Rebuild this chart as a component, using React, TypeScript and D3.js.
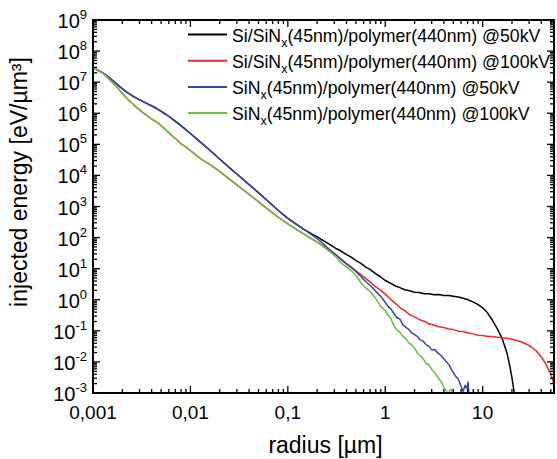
import * as d3 from 'd3'
import React from 'react'

const width = 557
const height = 459
const margin = { top: 20, right: 3, bottom: 66, left: 93 }

// axis settings
const xDomain: [number, number] = [0.001, 54]
const yDomain: [number, number] = [1e-3, 1e9]
const xTickValues = [0.001, 0.01, 0.1, 1, 10]
const xTickLabels = ['0,001', '0,01', '0,1', '1', '10']
const yTickExponents = [-3, -2, -1, 0, 1, 2, 3, 4, 5, 6, 7, 8, 9]

const seriesColors = ['#000000', '#ee2a2a', '#34499f', '#6abd45']
const legendParts = [
  { pre: 'Si/SiN', sub: 'x', post: '(45nm)/polymer(440nm) @50kV' },
  { pre: 'Si/SiN', sub: 'x', post: '(45nm)/polymer(440nm) @100kV' },
  { pre: 'SiN', sub: 'x', post: '(45nm)/polymer(440nm) @50kV' },
  { pre: 'SiN', sub: 'x', post: '(45nm)/polymer(440nm) @100kV' }
]

// [log10(radius µm), log10(energy eV/µm³)]
const blackLog: [number, number][] = [
  [-3.0, 7.47], [-2.95, 7.39], [-2.9, 7.3], [-2.85, 7.19], [-2.8, 7.06], [-2.75, 6.92], [-2.7, 6.79],
  [-2.65, 6.67], [-2.6, 6.57], [-2.55, 6.48], [-2.5, 6.4], [-2.45, 6.32], [-2.4, 6.24], [-2.35, 6.16],
  [-2.3, 6.06], [-2.25, 5.96], [-2.2, 5.85], [-2.15, 5.73], [-2.1, 5.61], [-2.05, 5.48], [-2.0, 5.35],
  [-1.9, 5.08], [-1.8, 4.81], [-1.7, 4.53], [-1.6, 4.25], [-1.5, 3.98], [-1.4, 3.71], [-1.3, 3.44],
  [-1.2, 3.16], [-1.1, 2.88], [-1.0, 2.62], [-0.9, 2.4], [-0.85, 2.3], [-0.8, 2.2], [-0.75, 2.11],
  [-0.7, 2.03], [-0.65, 1.93], [-0.6, 1.84], [-0.55, 1.74], [-0.5, 1.64], [-0.45, 1.56], [-0.4, 1.46],
  [-0.35, 1.37], [-0.3, 1.26], [-0.25, 1.17], [-0.2, 1.05], [-0.15, 0.96], [-0.1, 0.84], [-0.05, 0.74],
  [0.0, 0.62], [0.05, 0.54], [0.1, 0.45], [0.15, 0.39], [0.2, 0.32], [0.25, 0.29], [0.3, 0.24],
  [0.35, 0.23], [0.4, 0.19], [0.45, 0.19], [0.5, 0.16], [0.55, 0.17], [0.6, 0.14], [0.65, 0.14],
  [0.7, 0.11], [0.75, 0.09], [0.8, 0.05], [0.85, 0.0], [0.9, -0.07], [0.95, -0.15], [1.0, -0.26],
  [1.05, -0.42], [1.1, -0.66], [1.15, -0.93], [1.2, -1.25], [1.25, -1.72], [1.28, -2.15], [1.3, -2.5],
  [1.32, -2.9], [1.33, -3.1]
]

const redLog: [number, number][] = [
  [-3.0, 7.47], [-2.95, 7.39], [-2.9, 7.29], [-2.85, 7.15], [-2.8, 6.99], [-2.75, 6.82], [-2.7, 6.64],
  [-2.65, 6.47], [-2.6, 6.32], [-2.55, 6.18], [-2.5, 6.05], [-2.45, 5.93], [-2.4, 5.82], [-2.35, 5.72],
  [-2.3, 5.6], [-2.25, 5.46], [-2.2, 5.31], [-2.15, 5.17], [-2.1, 5.03], [-2.05, 4.92], [-2.0, 4.8],
  [-1.9, 4.55], [-1.8, 4.35], [-1.7, 4.13], [-1.6, 3.88], [-1.5, 3.64], [-1.4, 3.4], [-1.3, 3.15],
  [-1.2, 2.9], [-1.1, 2.66], [-1.0, 2.44], [-0.9, 2.24], [-0.8, 2.05], [-0.7, 1.86], [-0.65, 1.76],
  [-0.6, 1.66], [-0.55, 1.55], [-0.5, 1.43], [-0.45, 1.3], [-0.4, 1.17], [-0.35, 1.06], [-0.3, 0.93],
  [-0.25, 0.81], [-0.2, 0.68], [-0.15, 0.56], [-0.1, 0.42], [-0.05, 0.31], [0.0, 0.18], [0.05, 0.03],
  [0.1, -0.11], [0.15, -0.25], [0.2, -0.35], [0.25, -0.48], [0.3, -0.55], [0.35, -0.64], [0.4, -0.69],
  [0.45, -0.78], [0.5, -0.81], [0.55, -0.87], [0.6, -0.89], [0.65, -0.94], [0.7, -0.96], [0.75, -1.01],
  [0.8, -1.02], [0.85, -1.07], [0.9, -1.09], [0.95, -1.14], [1.0, -1.15], [1.05, -1.18], [1.1, -1.18],
  [1.15, -1.21], [1.2, -1.22], [1.25, -1.24], [1.3, -1.27], [1.35, -1.31], [1.4, -1.36], [1.45, -1.43],
  [1.5, -1.52], [1.55, -1.65], [1.6, -1.83], [1.65, -2.08], [1.7, -2.4], [1.74, -2.8], [1.77, -3.2]
]

const blueLog: [number, number][] = [
  [-3.0, 7.47], [-2.95, 7.39], [-2.9, 7.3], [-2.85, 7.19], [-2.8, 7.06], [-2.75, 6.92], [-2.7, 6.79],
  [-2.65, 6.67], [-2.6, 6.57], [-2.55, 6.48], [-2.5, 6.4], [-2.45, 6.32], [-2.4, 6.24], [-2.35, 6.16],
  [-2.3, 6.06], [-2.25, 5.96], [-2.2, 5.85], [-2.15, 5.73], [-2.1, 5.61], [-2.05, 5.48], [-2.0, 5.35],
  [-1.9, 5.08], [-1.8, 4.81], [-1.7, 4.53], [-1.6, 4.25], [-1.5, 3.98], [-1.4, 3.71], [-1.3, 3.44],
  [-1.2, 3.16], [-1.1, 2.88], [-1.0, 2.62], [-0.9, 2.4], [-0.8, 2.19], [-0.7, 1.97], [-0.65, 1.84],
  [-0.6, 1.69], [-0.55, 1.56], [-0.5, 1.43], [-0.45, 1.29], [-0.4, 1.15], [-0.35, 1.03], [-0.3, 0.9],
  [-0.25, 0.75], [-0.2, 0.58], [-0.15, 0.45], [-0.1, 0.28], [-0.05, 0.12], [0.0, -0.08], [0.03, -0.22],
  [0.06, -0.3], [0.09, -0.45], [0.12, -0.58], [0.15, -0.62], [0.18, -0.8], [0.21, -0.88], [0.24, -0.95],
  [0.27, -1.06], [0.3, -1.12], [0.33, -1.18], [0.36, -1.3], [0.39, -1.33], [0.42, -1.45], [0.45, -1.5],
  [0.48, -1.62], [0.51, -1.6], [0.54, -1.72], [0.57, -1.78], [0.6, -1.9], [0.63, -2.0], [0.66, -2.12],
  [0.69, -2.3], [0.72, -2.45], [0.75, -2.55], [0.78, -2.8], [0.8, -2.95], [0.82, -2.75], [0.84, -2.85],
  [0.85, -2.65], [0.86, -3.1]
]

const greenLog: [number, number][] = [
  [-3.0, 7.47], [-2.95, 7.39], [-2.9, 7.29], [-2.85, 7.15], [-2.8, 6.99], [-2.75, 6.82], [-2.7, 6.64],
  [-2.65, 6.47], [-2.6, 6.32], [-2.55, 6.18], [-2.5, 6.05], [-2.45, 5.93], [-2.4, 5.82], [-2.35, 5.72],
  [-2.3, 5.6], [-2.25, 5.46], [-2.2, 5.31], [-2.15, 5.17], [-2.1, 5.03], [-2.05, 4.92], [-2.0, 4.8],
  [-1.9, 4.55], [-1.8, 4.35], [-1.7, 4.13], [-1.6, 3.88], [-1.5, 3.64], [-1.4, 3.4], [-1.3, 3.15],
  [-1.2, 2.9], [-1.1, 2.66], [-1.0, 2.44], [-0.9, 2.24], [-0.8, 2.05], [-0.7, 1.85], [-0.65, 1.74],
  [-0.6, 1.62], [-0.55, 1.5], [-0.5, 1.36], [-0.45, 1.18], [-0.4, 1.06], [-0.35, 0.94], [-0.3, 0.78],
  [-0.25, 0.55], [-0.2, 0.38], [-0.15, 0.25], [-0.1, 0.05], [-0.05, -0.2], [0.0, -0.35], [0.03, -0.5],
  [0.06, -0.62], [0.09, -0.85], [0.12, -0.97], [0.15, -1.05], [0.18, -1.18], [0.21, -1.25], [0.24, -1.38],
  [0.27, -1.45], [0.3, -1.55], [0.33, -1.72], [0.36, -1.8], [0.39, -1.9], [0.42, -2.05], [0.45, -2.1],
  [0.48, -2.25], [0.51, -2.35], [0.54, -2.5], [0.57, -2.62], [0.6, -2.8], [0.63, -2.95], [0.65, -3.05],
  [0.66, -2.92], [0.68, -2.88], [0.69, -3.1]
]

const seriesLog = [blackLog, redLog, blueLog, greenLog]

const App = () => {
  const x = d3.scaleLog().domain(xDomain).range([margin.left, width - margin.right])
  const y = d3.scaleLog().domain(yDomain).range([height - margin.bottom, margin.top])
  const [x0, x1] = x.range()
  const [y0, y1] = y.range()

  const line = d3
    .line<[number, number]>()
    .x((d) => x(Math.pow(10, d[0])))
    .y((d) => y(Math.pow(10, d[1])))

  // minor ticks per decade
  const xMinor: number[] = []
  for (let e = -3; e <= 1; e++) {
    for (let m = 2; m <= 9; m++) {
      const v = m * Math.pow(10, e)
      if (v < xDomain[1]) xMinor.push(v)
    }
  }
  const yMinor: number[] = []
  for (let e = -3; e <= 8; e++) {
    for (let m = 2; m <= 9; m++) yMinor.push(m * Math.pow(10, e))
  }

  const major = 7
  const minor = 4
  const font = 'Liberation Sans, Arial, sans-serif'

  return (
    <svg width={width} height={height} style={{ position: 'absolute', left: 0, top: 0, background: '#fff' }}>
      <defs>
        <clipPath id='plot'>
          <rect x={x0} y={y1} width={x1 - x0} height={y0 - y1} />
        </clipPath>
      </defs>

      {/* curves */}
      <g clipPath='url(#plot)' fill='none' strokeWidth={1.5} strokeLinejoin='round'>
        {seriesLog.map((s, i) => (
          <path key={i} d={line(s) || ''} stroke={seriesColors[i]} />
        ))}
      </g>

      {/* ticks */}
      <g stroke='#000' strokeWidth={1.3}>
        {xTickValues.map((v) => (
          <g key={'xm' + v}>
            <line x1={x(v)} x2={x(v)} y1={y0} y2={y0 - major} />
            <line x1={x(v)} x2={x(v)} y1={y1} y2={y1 + major} />
          </g>
        ))}
        {xMinor.map((v) => (
          <g key={'xn' + v}>
            <line x1={x(v)} x2={x(v)} y1={y0} y2={y0 - minor} />
            <line x1={x(v)} x2={x(v)} y1={y1} y2={y1 + minor} />
          </g>
        ))}
        {yTickExponents.map((e) => (
          <g key={'ym' + e}>
            <line x1={x0} x2={x0 + major} y1={y(Math.pow(10, e))} y2={y(Math.pow(10, e))} />
            <line x1={x1} x2={x1 - major} y1={y(Math.pow(10, e))} y2={y(Math.pow(10, e))} />
          </g>
        ))}
        {yMinor.map((v, i) => (
          <g key={'yn' + i}>
            <line x1={x0} x2={x0 + minor} y1={y(v)} y2={y(v)} />
            <line x1={x1} x2={x1 - minor} y1={y(v)} y2={y(v)} />
          </g>
        ))}
      </g>

      {/* frame */}
      <rect x={x0} y={y1} width={x1 - x0} height={y0 - y1} fill='none' stroke='#000' strokeWidth={2} />

      {/* x tick labels */}
      <g fontFamily={font} fontSize={19} textAnchor='middle' fill='#000'>
        {xTickValues.map((v, i) => (
          <text key={v} x={x(v)} y={y0 + 26}>
            {xTickLabels[i]}
          </text>
        ))}
      </g>

      {/* y tick labels */}
      <g fontFamily={font} fontSize={20} textAnchor='end' fill='#000'>
        {yTickExponents.map((e) => (
          <text key={e} x={x0 - 6} y={y(Math.pow(10, e)) + 8}>
            10
            <tspan fontSize={13} dy={-9}>
              {e}
            </tspan>
          </text>
        ))}
      </g>

      {/* axis titles */}
      <text x={(x0 + x1) / 2 + 2} y={453} fontFamily={font} fontSize={23} textAnchor='middle'>
        radius [µm]
      </text>
      <text
        transform={`translate(27,182) rotate(-90)`}
        fontFamily={font}
        fontSize={23}
        textAnchor='middle'
      >
        injected energy [eV/µm³]
      </text>

      {/* legend */}
      <g fontFamily={font} fontSize={17.7}>
        {legendParts.map((p, i) => {
          const ly = 34.5 + i * 26.2
          return (
            <g key={i}>
              <line x1={188} x2={227} y1={ly} y2={ly} stroke={seriesColors[i]} strokeWidth={2} />
              <text x={232} y={ly + 7}>
                {p.pre}
                <tspan fontSize={12.5} dy={5}>
                  {p.sub}
                </tspan>
                <tspan dy={-5}>{p.post}</tspan>
              </text>
            </g>
          )
        })}
      </g>
    </svg>
  )
}

export default App
